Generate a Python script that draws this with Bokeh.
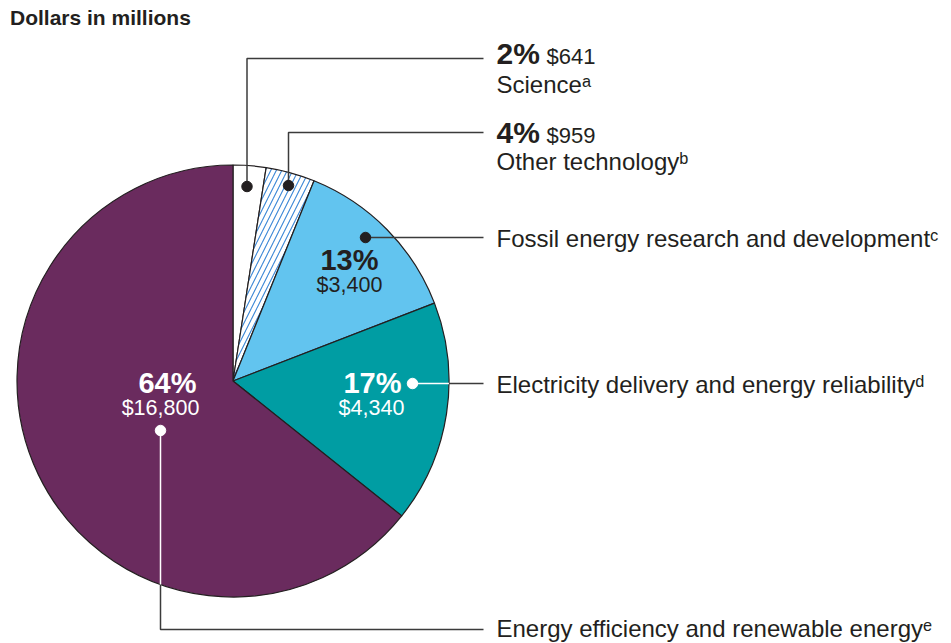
import math
from bokeh.plotting import figure
from bokeh.models import Range1d, ColumnDataSource
from bokeh.core.properties import value
from bokeh.embed import file_html
from bokeh.resources import INLINE

# ---------------- data ----------------
categories = ["Science", "Other technology",
              "Fossil energy research and development",
              "Electricity delivery and energy reliability",
              "Energy efficiency and renewable energy"]
footnotes = ["a", "b", "c", "d", "e"]
dollars = [641, 959, 3400, 4340, 16800]
percents = [2, 4, 13, 17, 64]
title_text = "Dollars in millions"

# ---------------- styling / layout ----------------
FONT = "Liberation Sans"
DARK = "#231f20"
LINE = "#3b3b3b"
fills = ["#ffffff", "#ffffff", "#62c4ef", "#009da3", "#6a2b5e"]
hatches = [" ", "/", " ", " ", " "]
W, H = 951, 643


def Y(img_y):
    return H - img_y


CX, CY, R = 232.5, Y(380.5), 216.0

p = figure(width=W, height=H, output_backend="svg", toolbar_location=None,
           x_range=Range1d(0, W), y_range=Range1d(0, H),
           x_axis_location=None, y_axis_location=None, min_border=0)
p.grid.visible = False
p.outline_line_color = None
p.background_fill_color = "white"
p.border_fill_color = "white"

# ---------------- pie ----------------
total = float(sum(dollars))
starts, ends = [], []
cum = 0.0
for v in dollars:
    a0 = math.pi / 2 - 2 * math.pi * cum / total
    cum += v
    a1 = math.pi / 2 - 2 * math.pi * cum / total
    starts.append(a1)
    ends.append(a0)

src = ColumnDataSource(dict(x=[CX] * 5, y=[CY] * 5, start=starts, end=ends,
                            fill=fills, hatch=hatches))
p.wedge(x="x", y="y", radius=R, start_angle="start", end_angle="end",
        direction="anticlock", fill_color="fill", line_color=DARK, line_width=1.2,
        hatch_pattern="hatch", hatch_color="#3a86d6", hatch_scale=11, hatch_weight=1.1,
        source=src)

# ---------------- leader lines & dots ----------------
LABEL_X = 483          # leader end
TEXT_X = 496           # text start
dot_pts = [(246.5, 186), (288, 185), (365, 237), (412, 383), (160, 430)]
line_y = [58, 132, 237, 383, 629]
dot_colors = [DARK, DARK, DARK, "white", "white"]

dark_xs, dark_ys, white_xs, white_ys = [], [], [], []
for i in (0, 1):
    dx, dy = dot_pts[i]
    dark_xs.append([dx, dx, LABEL_X])
    dark_ys.append([Y(dy), Y(line_y[i]), Y(line_y[i])])
dark_xs.append([dot_pts[2][0], LABEL_X])
dark_ys.append([Y(line_y[2]), Y(line_y[2])])
ex, ey = dot_pts[3]
edge_x = CX + math.sqrt(R ** 2 - (Y(ey) - CY) ** 2)
white_xs.append([ex, edge_x]); white_ys.append([Y(ey), Y(ey)])
dark_xs.append([edge_x, LABEL_X]); dark_ys.append([Y(ey), Y(ey)])
fx, fy = dot_pts[4]
edge_y = CY - math.sqrt(R ** 2 - (fx - CX) ** 2)
white_xs.append([fx, fx]); white_ys.append([Y(fy), edge_y])
dark_xs.append([fx, fx, LABEL_X]); dark_ys.append([edge_y, Y(line_y[4]), Y(line_y[4])])

p.multi_line(xs=dark_xs, ys=dark_ys, line_color=LINE, line_width=1.5)
p.multi_line(xs=white_xs, ys=white_ys, line_color="white", line_width=1.5)
p.scatter(x=[d[0] for d in dot_pts], y=[Y(d[1]) for d in dot_pts], size=10.5,
          fill_color=dot_colors, line_color=dot_colors)

# ---------------- texts ----------------
BASE_FIX = 0.36   # renderer places alphabetic baseline this fraction of size lower


def txt(x, base_img, s, size, color=DARK, bold=False, align="left"):
    p.text(x=[x], y=[Y(base_img - BASE_FIX * size)], text=[s], text_font=value(FONT),
           text_font_size=f"{size}px", text_color=color,
           text_font_style="bold" if bold else "normal",
           text_align=align, text_baseline="alphabetic")


sup = {"a": "ᵃ", "b": "ᵇ", "c": "ᶜ", "d": "ᵈ", "e": "ᵉ"}


def money(v):
    return f"${v:,}"


txt(9.5, 24.5, title_text, 21, bold=True)

# right column labels
txt(TEXT_X, 63.5, f"{percents[0]}%", 30, bold=True)
txt(546, 63.5, money(dollars[0]), 22)
txt(TEXT_X, 93, categories[0] + sup[footnotes[0]], 24)
txt(TEXT_X, 142.5, f"{percents[1]}%", 30, bold=True)
txt(546, 142.5, money(dollars[1]), 22)
txt(TEXT_X, 169.5, categories[1] + sup[footnotes[1]], 24)
txt(TEXT_X, 246.5, categories[2] + sup[footnotes[2]], 24)
txt(TEXT_X, 392.5, categories[3] + sup[footnotes[3]], 24)
txt(TEXT_X, 636.5, categories[4] + sup[footnotes[4]], 24)

# in-pie labels
txt(349, 269.5, f"{percents[2]}%", 29, bold=True, align="center")
txt(349, 292.5, money(dollars[2]), 21.5, align="center")
txt(372, 392.5, f"{percents[3]}%", 29, color="white", bold=True, align="center")
txt(371, 415.5, money(dollars[3]), 21.5, color="white", align="center")
txt(167, 392.5, f"{percents[4]}%", 29, color="white", bold=True, align="center")
txt(160, 415.5, money(dollars[4]), 21.5, color="white", align="center")

open("out.html", "w").write(file_html(p, INLINE))
